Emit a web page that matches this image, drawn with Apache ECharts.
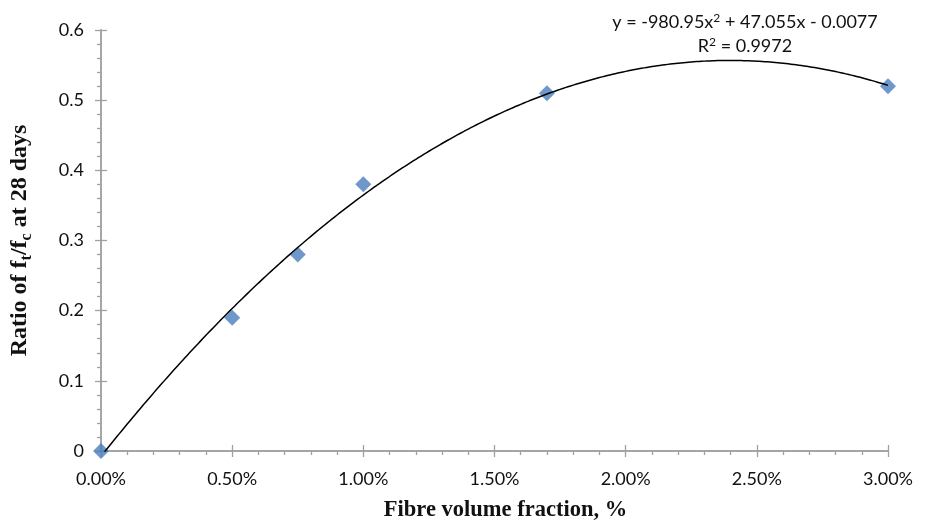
<!DOCTYPE html>
<html>
<head>
<meta charset="utf-8">
<script src="https://cdn.jsdelivr.net/npm/echarts@6/dist/echarts.min.js"></script>
<style>
  html, body { margin: 0; padding: 0; background: #fff; }
  #chart { width: 931px; height: 521px; }
</style>
</head>
<body>
<div id="chart"></div>
<script>
// Fibre volume fraction (as a fraction) and measured ft/fc ratio at 28 days
const fibreFraction = [0, 0.005, 0.0075, 0.01, 0.017, 0.03];
const strengthRatio = [0, 0.19, 0.28, 0.38, 0.51, 0.52];

// Second-order polynomial trendline coefficients: y = a x^2 + b x + c
const trendA = -980.95;
const trendB = 47.055;
const trendC = -0.0077;
const trendR2 = 0.9972;

const trendPoints = [];
for (let i = 0; i <= 300; i++) {
  const x = 0.03 * i / 300;
  trendPoints.push([x, trendA * x * x + trendB * x + trendC]);
}

const chart = echarts.init(document.getElementById('chart'));
const axisGrey = '#A0A0A0';
const labelFont = 'Lato, "Open Sans", sans-serif';
const titleFont = '"Liberation Serif", "Times New Roman", serif';

const baseX = {
  type: 'value', min: 0, max: 0.03, interval: 0.005,
  position: 'bottom',
  splitLine: { show: false },
  axisLine: { lineStyle: { color: axisGrey, width: 1.5 } }
};
const baseY = {
  type: 'value', min: 0, max: 0.6, interval: 0.1,
  position: 'left',
  splitLine: { show: false },
  axisLine: { lineStyle: { color: axisGrey, width: 1.5 } }
};

chart.setOption({
  animation: false,
  backgroundColor: '#fff',
  grid: { left: 101, right: 43, top: 30, bottom: 70, outerBoundsMode: 'none', containLabel: false },
  xAxis: [
    Object.assign({}, baseX, {
      axisTick: { show: true, length: 6, lineStyle: { color: axisGrey, width: 1.3 } },
      minorTick: { show: true, splitNumber: 5, length: 4, lineStyle: { color: axisGrey, width: 1.3 } },
      axisLabel: {
        color: '#111', fontFamily: labelFont, fontSize: 18, margin: 19,
        formatter: v => (v * 100).toFixed(2) + '%'
      },
      name: 'Fibre volume fraction, %',
      nameLocation: 'middle', nameGap: 48,
      nameTextStyle: {
        fontFamily: titleFont, fontWeight: 'bold', fontSize: 22.5, color: '#111',
        padding: [0, 0, 0, 22]
      }
    }),
    Object.assign({}, baseX, {
      axisTick: { show: true, inside: true, length: 6, lineStyle: { color: axisGrey, width: 1.3 } },
      axisLabel: { show: false }
    })
  ],
  yAxis: [
    Object.assign({}, baseY, {
      axisTick: { show: true, length: 6, lineStyle: { color: axisGrey, width: 1.3 } },
      minorTick: { show: true, splitNumber: 5, length: 4, lineStyle: { color: axisGrey, width: 1.3 } },
      axisLabel: {
        color: '#111', fontFamily: labelFont, fontSize: 18, margin: 17,
        formatter: v => String(Math.round(v * 10) / 10)
      },
      name: '{m|Ratio of f}{s|t}{m|/f}{s|c}{m| at 28 days}',
      nameLocation: 'middle', nameGap: 66, nameRotate: 90,
      nameTextStyle: {
        rich: {
          m: { fontFamily: titleFont, fontWeight: 'bold', fontSize: 24, color: '#111', lineHeight: 30 },
          s: { fontFamily: titleFont, fontWeight: 'bold', fontSize: 16, color: '#111', lineHeight: 16, verticalAlign: 'bottom' }
        }
      }
    }),
    Object.assign({}, baseY, {
      axisTick: { show: true, inside: true, length: 6, lineStyle: { color: axisGrey, width: 1.3 } },
      axisLabel: { show: false }
    })
  ],
  series: [
    {
      type: 'scatter',
      data: fibreFraction.map((x, i) => [x, strengthRatio[i]]),
      symbol: 'diamond',
      symbolSize: 16,
      itemStyle: { color: '#4A7EBB' },
      z: 3
    },
    {
      type: 'line',
      data: trendPoints,
      showSymbol: false,
      symbol: 'none',
      lineStyle: { color: '#000', width: 1.5 },
      z: 4
    }
  ],
  graphic: [
    {
      type: 'text', x: 745, y: 22,
      style: {
        text: '{t|y = ' + trendA + 'x}{p|2}{t| + ' + trendB + 'x - ' + Math.abs(trendC) + '}',
        align: 'center', verticalAlign: 'middle',
        rich: {
          t: { font: '18px ' + labelFont, fill: '#111', lineHeight: 20 },
          p: { font: '12px ' + labelFont, fill: '#111', lineHeight: 20, verticalAlign: 'top' }
        }
      }
    },
    {
      type: 'text', x: 745, y: 46,
      style: {
        text: '{t|R}{p|2}{t| = ' + trendR2 + '}',
        align: 'center', verticalAlign: 'middle',
        rich: {
          t: { font: '18px ' + labelFont, fill: '#111', lineHeight: 20 },
          p: { font: '12px ' + labelFont, fill: '#111', lineHeight: 20, verticalAlign: 'top' }
        }
      }
    }
  ]
});
</script>
</body>
</html>
